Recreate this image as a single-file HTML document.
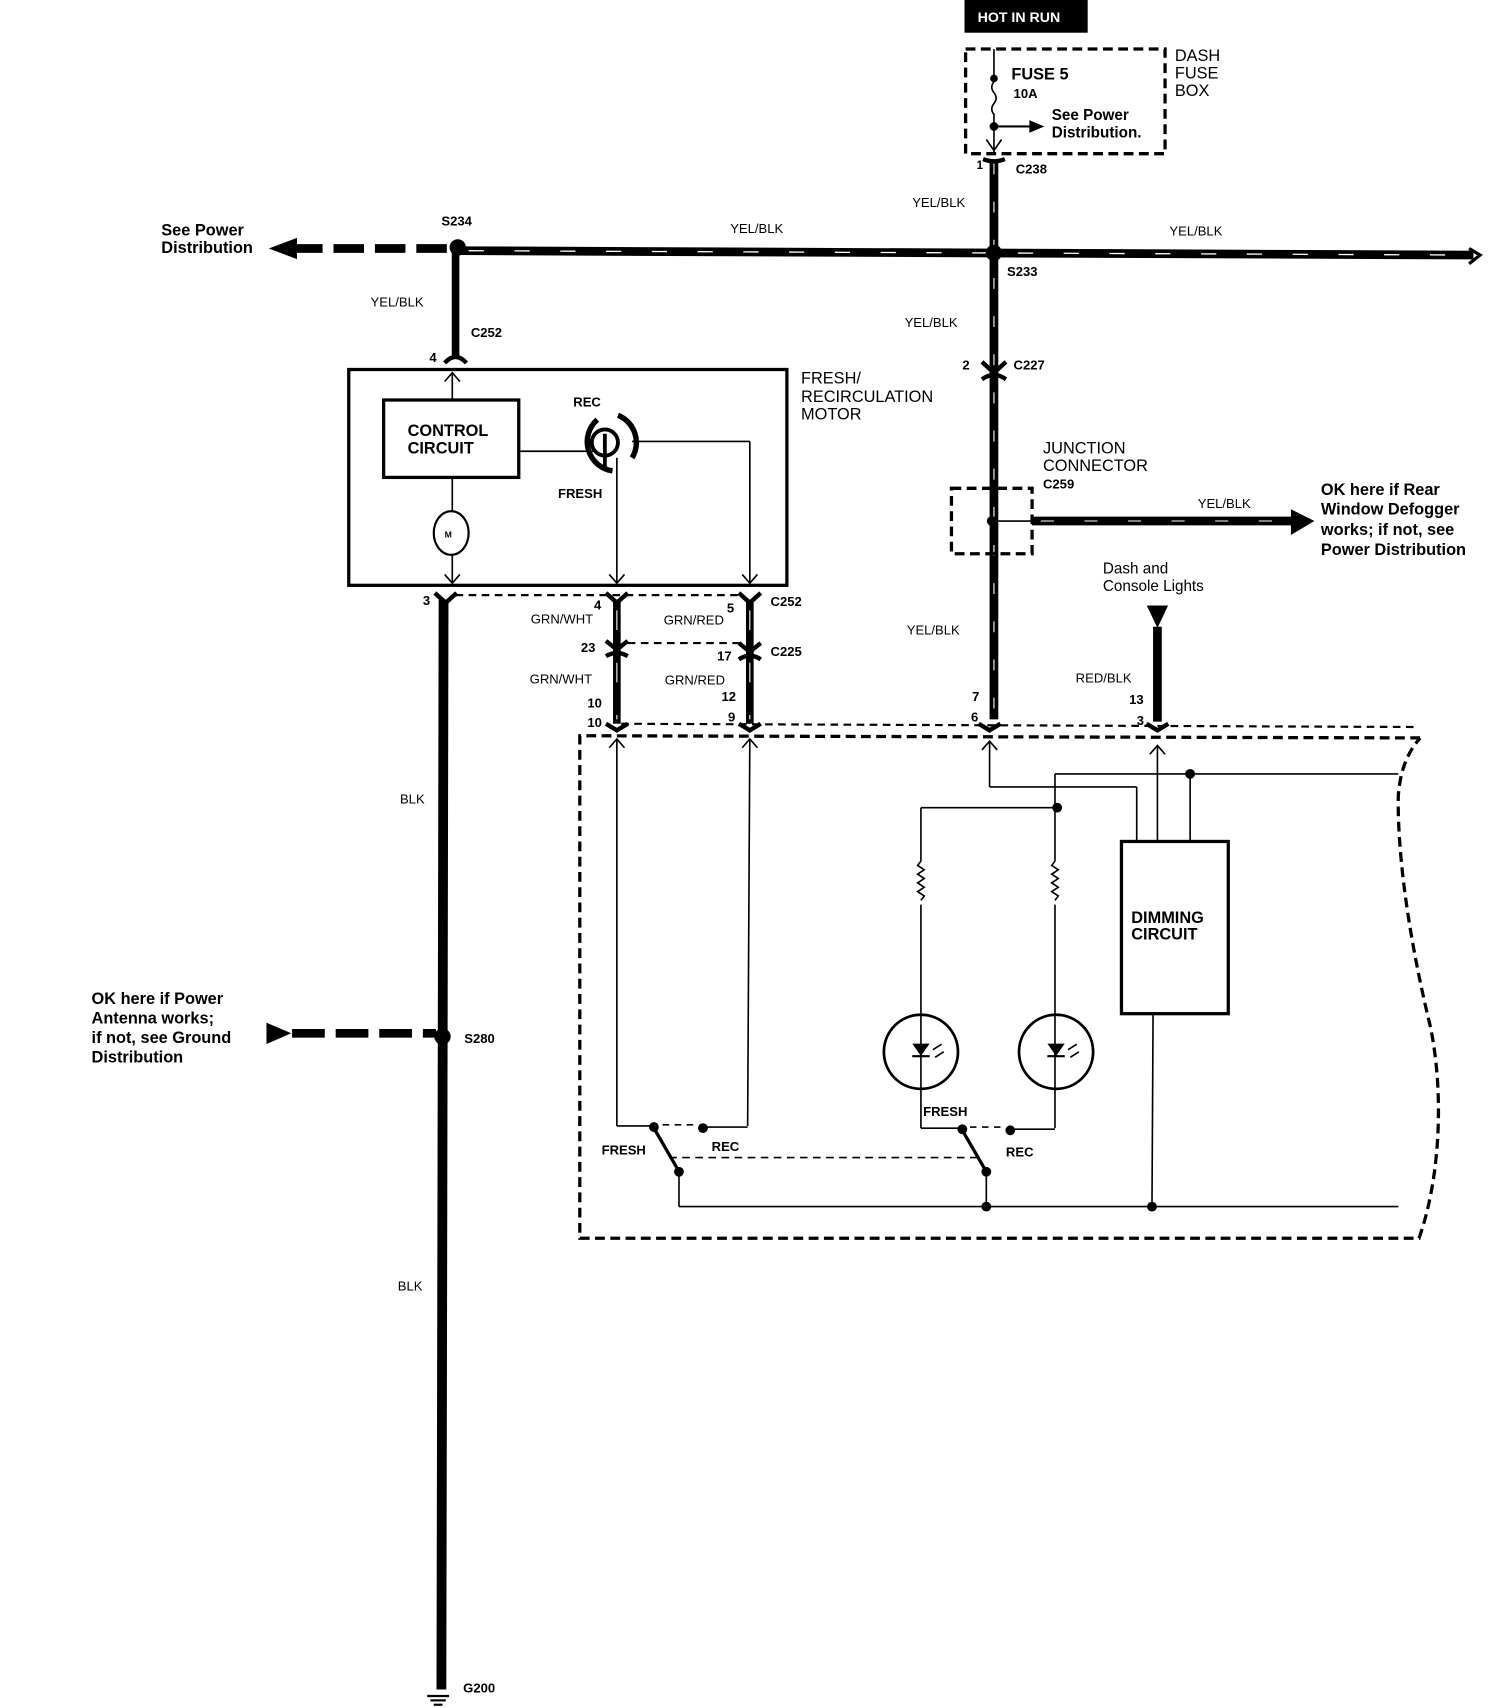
<!DOCTYPE html>
<html><head><meta charset="utf-8"><style>
html,body{margin:0;padding:0;background:#fff;}
svg{display:block;}
text{font-family:"Liberation Sans",sans-serif;font-weight:bold;fill:#000;}
</style></head><body>
<svg width="1504" height="1708" viewBox="0 0 1380 1567" preserveAspectRatio="none" xmlns="http://www.w3.org/2000/svg">
<g stroke="#000" fill="none">
<rect x="885" y="0" width="113" height="30" fill="#000" stroke="none"/>
<rect x="886" y="45" width="183" height="96" stroke-width="3" stroke-dasharray="9,5"/>
<line x1="912" y1="45" x2="912" y2="70" stroke-width="1.5"/>
<circle cx="912" cy="72" r="3" fill="#000"/>
<path d="M912,75 q-4,5 0,10 q4,5 0,10 q-4,5 0,10 L912,115" stroke-width="1.5"/>
<circle cx="912" cy="116" r="3.5" fill="#000"/>
<line x1="912" y1="116" x2="948" y2="116" stroke-width="2"/>
<path d="M945,111 L957,116 L945,121Z" fill="#000"/>
<line x1="912" y1="116" x2="912" y2="140" stroke-width="1.5"/>
<path d="M905,128 L912,138 L919,128" stroke-width="1.5"/>
<path d="M902,146 Q912,150 922,146" stroke-width="4"/>
<line x1="912" y1="148" x2="912" y2="660" stroke-width="8"/>
<line x1="912" y1="150" x2="912" y2="660" stroke="#fff" stroke-width="1" stroke-dasharray="10,25"/>
<line x1="420" y1="230" x2="1352" y2="234" stroke-width="8"/>
<line x1="430" y1="230" x2="1350" y2="234" stroke="#fff" stroke-width="1.2" stroke-dasharray="14,28"/>
<path d="M1348,228 L1358,234 L1348,242" stroke-width="3"/>
<line x1="268" y1="228" x2="418" y2="228" stroke-width="8" stroke-dasharray="28,10"/>
<path d="M248,228 L272,219 L272,237Z" fill="#000"/>
<circle cx="420" cy="227" r="7" fill="#000"/>
<circle cx="912" cy="232" r="7" fill="#000"/>
<line x1="418" y1="232" x2="418" y2="326" stroke-width="7"/>
<path d="M408,333 Q418,322 428,333" stroke-width="4"/>
<path d="M901,332 L912,342 L923,332" stroke-width="4"/>
<path d="M901,348 Q912,340 923,348" stroke-width="4"/>
<rect x="873" y="448" width="74" height="60" stroke-width="3" stroke-dasharray="9,5"/>
<circle cx="910" cy="478" r="4" fill="#000"/>
<line x1="910" y1="478" x2="947" y2="478" stroke-width="1.5"/>
<line x1="947" y1="478" x2="1190" y2="478" stroke-width="8"/>
<line x1="955" y1="478" x2="1185" y2="478" stroke="#fff" stroke-width="1" stroke-dasharray="12,28"/>
<path d="M1185,468 L1205,478 L1185,490Z" fill="#000"/>
<path d="M1053,556 L1071,556 L1062,575Z" fill="#000"/>
<line x1="1062" y1="575" x2="1062" y2="662" stroke-width="8"/>
<rect x="320" y="339" width="402" height="198" stroke-width="3"/>
<rect x="352" y="367" width="124" height="71" stroke-width="3"/>
<line x1="415" y1="367" x2="415" y2="342" stroke-width="1.5"/>
<path d="M408,350 L415,342 L422,350" stroke-width="1.5"/>
<line x1="476" y1="414" x2="545" y2="414" stroke-width="1.5"/>
<path d="M548,385 A27,27 0 0 0 562,432" stroke-width="5"/>
<path d="M567,381 A27,27 0 0 1 580,420" stroke-width="5"/>
<circle cx="555" cy="406" r="12" stroke-width="3.5"/>
<line x1="555" y1="398" x2="555" y2="432" stroke-width="3.5"/>
<line x1="580" y1="405" x2="688" y2="405" stroke-width="1.5"/>
<line x1="688" y1="405" x2="688" y2="535" stroke-width="1.5"/>
<path d="M681,527 L688,535 L695,527" stroke-width="1.5"/>
<line x1="566" y1="420" x2="566" y2="535" stroke-width="1.5"/>
<path d="M559,527 L566,535 L573,527" stroke-width="1.5"/>
<line x1="415" y1="438" x2="415" y2="470" stroke-width="1.5"/>
<ellipse cx="414" cy="489" rx="16" ry="20" stroke-width="2"/>
<line x1="415" y1="509" x2="415" y2="535" stroke-width="1.5"/>
<path d="M408,527 L415,535 L422,527" stroke-width="1.5"/>
<line x1="418" y1="546" x2="680" y2="546" stroke-width="2" stroke-dasharray="7,5"/>
<path d="M399,544 L409,553 L419,544" stroke-width="4"/>
<path d="M556,544 L566,553 L576,544" stroke-width="4"/>
<path d="M678,544 L688,553 L698,544" stroke-width="4"/>
<line x1="407" y1="550" x2="405" y2="1550" stroke-width="9"/>
<circle cx="406" cy="951" r="7" fill="#000"/>
<line x1="268" y1="948" x2="400" y2="948" stroke-width="8" stroke-dasharray="30,10"/>
<path d="M245,939 L266,948 L245,957Z" fill="#000"/>
<line x1="392" y1="1556" x2="412" y2="1556" stroke-width="2"/>
<line x1="395" y1="1560" x2="409" y2="1560" stroke-width="2"/>
<line x1="398" y1="1564" x2="406" y2="1564" stroke-width="2"/>
<line x1="566" y1="550" x2="566" y2="664" stroke-width="7"/>
<line x1="688" y1="550" x2="688" y2="664" stroke-width="7"/>
<line x1="566" y1="560" x2="566" y2="660" stroke="#fff" stroke-width="1" stroke-dasharray="18,30"/>
<line x1="688" y1="560" x2="688" y2="660" stroke="#fff" stroke-width="1" stroke-dasharray="18,30"/>
<line x1="576" y1="590" x2="680" y2="590" stroke-width="2" stroke-dasharray="7,5"/>
<path d="M556,588 L566,596 L576,588" stroke-width="4"/>
<path d="M556,602 Q566,596 576,602" stroke-width="4"/>
<path d="M678,590 L688,598 L698,590" stroke-width="4"/>
<path d="M678,605 Q688,598 698,605" stroke-width="4"/>
<line x1="570" y1="664" x2="1300" y2="667" stroke-width="2" stroke-dasharray="7,5"/>
<path d="M556,664 L566,670 L576,664" stroke-width="4"/>
<path d="M678,664 L688,670 L698,664" stroke-width="4"/>
<path d="M898,664 L908,670 L918,664" stroke-width="4"/>
<path d="M1052,664 L1062,670 L1072,664" stroke-width="4"/>
<path d="M1303,677 L532,675 L532,1136 L1302,1136 C1322,1080 1325,1000 1312,940 C1295,870 1282,790 1283,730 C1285,705 1292,690 1303,677" stroke-width="3" stroke-dasharray="9,5"/>
<g stroke-width="1.5">
<line x1="566" y1="678" x2="566" y2="1033"/><path d="M559,686 L566,678 L573,686"/>
<line x1="688" y1="678" x2="686" y2="1033"/><path d="M681,686 L688,678 L695,686"/>
<line x1="566" y1="1033" x2="600" y2="1033"/>
<line x1="645" y1="1034" x2="686" y2="1034"/>
<line x1="608" y1="1032" x2="640" y2="1032" stroke-dasharray="6,5"/>
<line x1="600" y1="1035" x2="622" y2="1073" stroke-width="3"/>
<line x1="614" y1="1062" x2="902" y2="1062" stroke-dasharray="7,5"/>
<line x1="623" y1="1073" x2="623" y2="1107"/>
<line x1="623" y1="1107" x2="1283" y2="1107"/>
<line x1="908" y1="680" x2="908" y2="722"/><path d="M901,688 L908,680 L915,688"/>
<line x1="908" y1="722" x2="1043" y2="722"/>
<line x1="1043" y1="722" x2="1043" y2="772"/>
<line x1="1062" y1="684" x2="1062" y2="772"/><path d="M1055,692 L1062,684 L1069,692"/>
<line x1="968" y1="710" x2="1283" y2="710"/>
<line x1="968" y1="710" x2="968" y2="790"/>
<line x1="1092" y1="710" x2="1092" y2="772"/>
<line x1="845" y1="741" x2="970" y2="741"/>
<line x1="845" y1="741" x2="845" y2="790"/>
<path d="M845,790 l-3,4 l6,4 l-6,4 l6,4 l-6,4 l6,4 l-6,4 l6,4 l-3,4"/>
<path d="M968,790 l-3,4 l6,4 l-6,4 l6,4 l-6,4 l6,4 l-6,4 l6,4 l-3,4"/>
<line x1="845" y1="830" x2="845" y2="1035"/>
<line x1="968" y1="830" x2="968" y2="1035"/>
<circle cx="845" cy="965" r="34" stroke-width="2.5"/>
<circle cx="969" cy="965" r="34" stroke-width="2.5"/>
<line x1="845" y1="1035" x2="883" y2="1035"/>
<line x1="927" y1="1036" x2="968" y2="1036"/>
<line x1="890" y1="1034" x2="922" y2="1034" stroke-dasharray="6,5"/>
<line x1="883" y1="1037" x2="905" y2="1075" stroke-width="3"/>
<line x1="905" y1="1075" x2="905" y2="1107"/>
<line x1="1058" y1="930" x2="1057" y2="1107"/>
</g>
<path d="M838,958 L852,958 L845,968Z" fill="#000"/>
<line x1="837" y1="969" x2="853" y2="969" stroke-width="2"/>
<path d="M962,958 L976,958 L969,968Z" fill="#000"/>
<line x1="961" y1="969" x2="977" y2="969" stroke-width="2"/>
<path d="M856,963 l8,-5 M858,970 l8,-5 M980,963 l8,-5 M982,970 l8,-5" stroke-width="1.5"/>
<rect x="1029" y="772" width="98" height="158" stroke-width="3"/>
<g fill="#000" stroke="none">
<circle cx="970" cy="741" r="4.5"/><circle cx="1092" cy="710" r="4.5"/>
<circle cx="600" cy="1034" r="4.5"/><circle cx="645" cy="1035" r="4.5"/><circle cx="623" cy="1075" r="4.5"/>
<circle cx="883" cy="1036" r="4.5"/><circle cx="927" cy="1037" r="4.5"/><circle cx="905" cy="1075" r="4.5"/>
<circle cx="905" cy="1107" r="4.5"/><circle cx="1057" cy="1107" r="4.5"/>
</g>
</g>
<g font-size="13">
<text x="897" y="20" style="fill:#fff" font-size="13">HOT IN RUN</text>
<text x="1078" y="56" font-size="15" style="font-weight:normal">DASH</text>
<text x="1078" y="72" style="font-weight:normal" font-size="15">FUSE</text>
<text x="1078" y="88" style="font-weight:normal" font-size="15">BOX</text>
<text x="928" y="73" font-size="15">FUSE 5</text>
<text x="930" y="90" font-size="12">10A</text>
<text x="965" y="110" font-size="14">See Power</text>
<text x="965" y="126" font-size="14">Distribution.</text>
<text x="896" y="155" font-size="11">1</text>
<text x="932" y="159" font-size="12">C238</text>
<text x="837" y="190" font-size="12" style="font-weight:normal">YEL/BLK</text>
<text x="670" y="214" font-size="12" style="font-weight:normal">YEL/BLK</text>
<text x="1073" y="216" font-size="12" style="font-weight:normal">YEL/BLK</text>
<text x="405" y="207" font-size="12">S234</text>
<text x="924" y="253" font-size="12">S233</text>
<text x="148" y="216" font-size="15">See Power</text>
<text x="148" y="232" font-size="15">Distribution</text>
<text x="340" y="281" font-size="12" style="font-weight:normal">YEL/BLK</text>
<text x="432" y="309" font-size="12">C252</text>
<text x="394" y="332" font-size="12">4</text>
<text x="830" y="300" font-size="12" style="font-weight:normal">YEL/BLK</text>
<text x="883" y="339" font-size="12">2</text>
<text x="930" y="339" font-size="12">C227</text>
<text x="735" y="352" font-size="15" style="font-weight:normal">FRESH/</text>
<text x="735" y="369" font-size="15" style="font-weight:normal">RECIRCULATION</text>
<text x="735" y="385" font-size="15" style="font-weight:normal">MOTOR</text>
<text x="374" y="400" font-size="15">CONTROL</text>
<text x="374" y="416" font-size="15">CIRCUIT</text>
<text x="526" y="373" font-size="12">REC</text>
<text x="512" y="457" font-size="12">FRESH</text>
<text x="408" y="493" font-size="8">M</text>
<text x="957" y="416" font-size="15" style="font-weight:normal">JUNCTION</text>
<text x="957" y="432" font-size="15" style="font-weight:normal">CONNECTOR</text>
<text x="957" y="448" font-size="12">C259</text>
<text x="1099" y="466" font-size="12" style="font-weight:normal">YEL/BLK</text>
<text x="1212" y="454" font-size="15">OK here if Rear</text>
<text x="1212" y="472" font-size="15">Window Defogger</text>
<text x="1212" y="491" font-size="15">works; if not, see</text>
<text x="1212" y="509" font-size="15">Power Distribution</text>
<text x="1012" y="526" font-size="14" style="font-weight:normal">Dash and</text>
<text x="1012" y="542" font-size="14" style="font-weight:normal">Console Lights</text>
<text x="388" y="555" font-size="12">3</text>
<text x="545" y="559" font-size="12">4</text>
<text x="667" y="562" font-size="12">5</text>
<text x="707" y="556" font-size="12">C252</text>
<text x="487" y="572" font-size="12" style="font-weight:normal">GRN/WHT</text>
<text x="609" y="573" font-size="12" style="font-weight:normal">GRN/RED</text>
<text x="533" y="598" font-size="12">23</text>
<text x="658" y="606" font-size="12">17</text>
<text x="707" y="602" font-size="12">C225</text>
<text x="486" y="627" font-size="12" style="font-weight:normal">GRN/WHT</text>
<text x="610" y="628" font-size="12" style="font-weight:normal">GRN/RED</text>
<text x="539" y="649" font-size="12">10</text>
<text x="539" y="667" font-size="12">10</text>
<text x="662" y="643" font-size="12">12</text>
<text x="668" y="662" font-size="12">9</text>
<text x="832" y="582" font-size="12" style="font-weight:normal">YEL/BLK</text>
<text x="892" y="643" font-size="12">7</text>
<text x="891" y="662" font-size="12">6</text>
<text x="987" y="626" font-size="12" style="font-weight:normal">RED/BLK</text>
<text x="1036" y="646" font-size="12">13</text>
<text x="1043" y="665" font-size="12">3</text>
<text x="367" y="737" font-size="12" style="font-weight:normal">BLK</text>
<text x="365" y="1184" font-size="12" style="font-weight:normal">BLK</text>
<text x="84" y="921" font-size="15">OK here if Power</text>
<text x="84" y="939" font-size="15">Antenna works;</text>
<text x="84" y="957" font-size="15">if not, see Ground</text>
<text x="84" y="975" font-size="15">Distribution</text>
<text x="426" y="957" font-size="12">S280</text>
<text x="425" y="1553" font-size="12">G200</text>
<text x="1038" y="847" font-size="15">DIMMING</text>
<text x="1038" y="862" font-size="15">CIRCUIT</text>
<text x="552" y="1059" font-size="12">FRESH</text>
<text x="653" y="1056" font-size="12">REC</text>
<text x="847" y="1024" font-size="12">FRESH</text>
<text x="923" y="1061" font-size="12">REC</text>
</g>
</svg>
</body></html>
